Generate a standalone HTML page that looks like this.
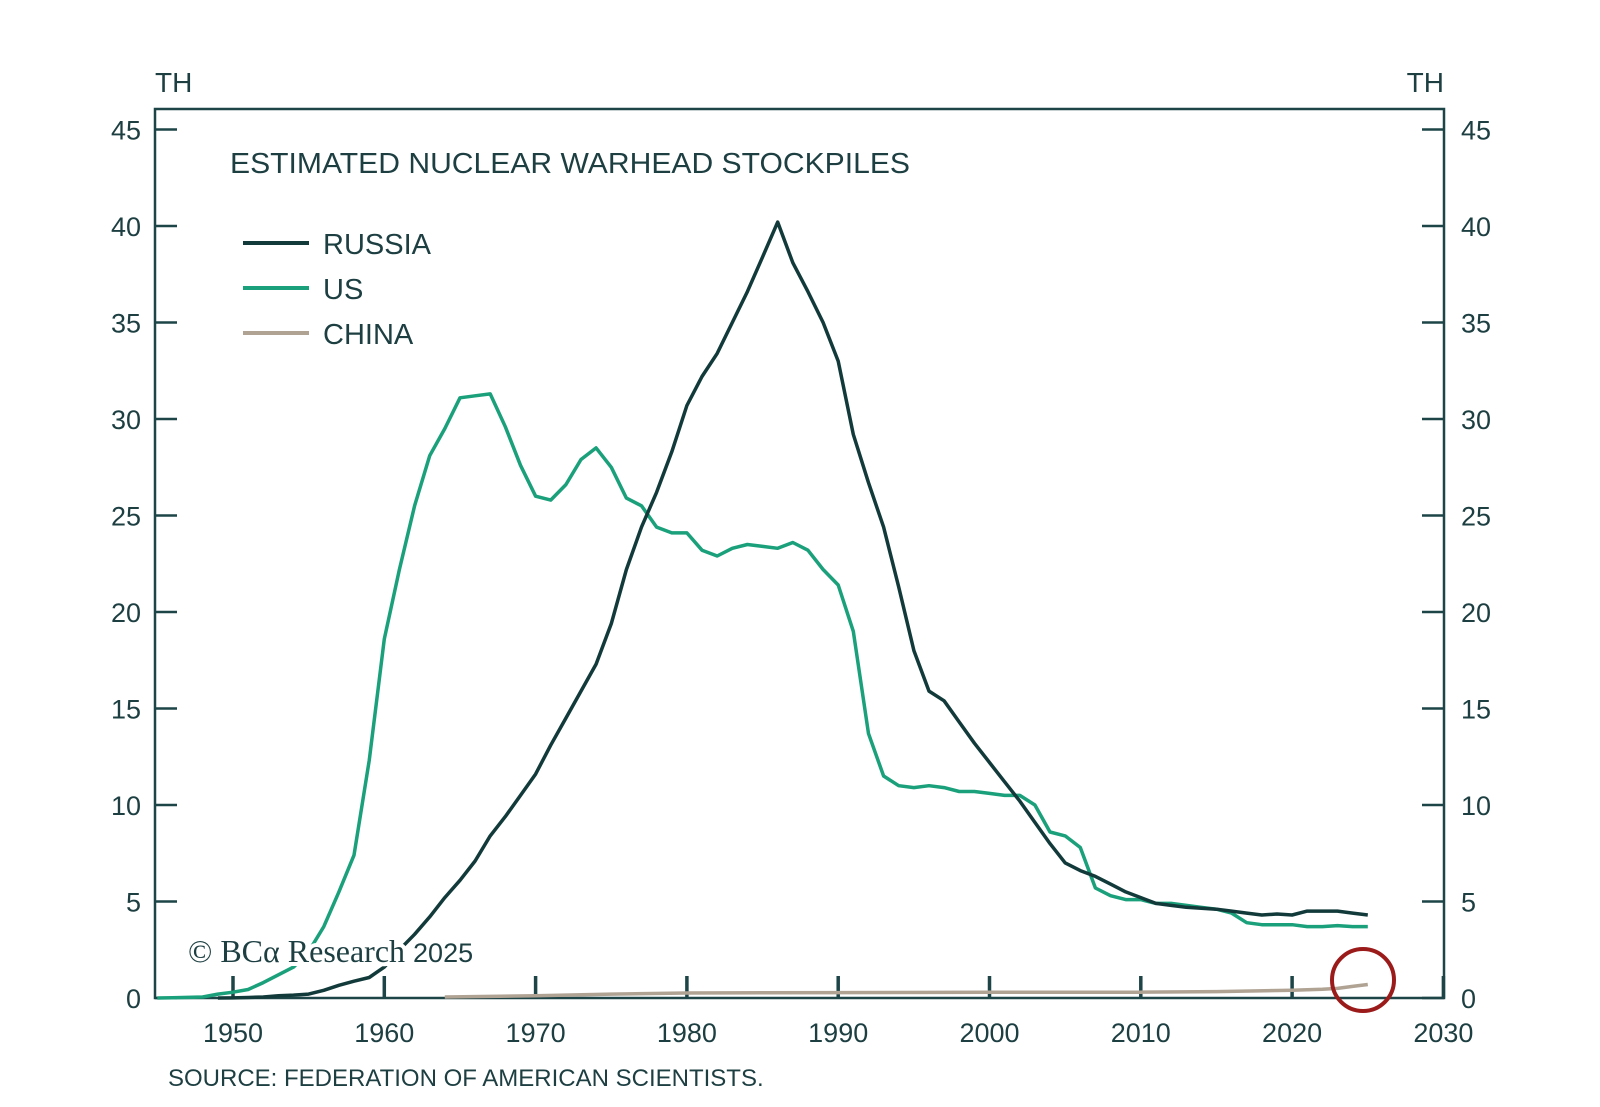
<!DOCTYPE html>
<html><head><meta charset="utf-8">
<style>
html,body{margin:0;padding:0;background:#fff;}
svg{display:block;}
text{font-family:"Liberation Sans",sans-serif;fill:#1d3f42;}
</style></head>
<body>
<svg id="chart" width="1600" height="1107" viewBox="0 0 1600 1107" xmlns="http://www.w3.org/2000/svg">
<rect width="1600" height="1107" fill="#fff"/>
<g id="axes"></g>
<g id="series"></g>
<text x="230" y="173" font-size="29" textLength="680" lengthAdjust="spacingAndGlyphs">ESTIMATED NUCLEAR WARHEAD STOCKPILES</text>
<g>
 <g><line x1="243" y1="243" x2="309" y2="243" stroke="#123a3a" stroke-width="4"/><text x="323" y="254" font-size="29">RUSSIA</text></g>
 <g><line x1="243" y1="288" x2="309" y2="288" stroke="#1aa07a" stroke-width="4"/><text x="323" y="299" font-size="29">US</text></g>
 <g><line x1="243" y1="333" x2="309" y2="333" stroke="#b0a394" stroke-width="4"/><text x="323" y="344" font-size="29">CHINA</text></g>
</g>
<text x="155" y="92" font-size="28">TH</text>
<text x="1444" y="92" font-size="28" text-anchor="end">TH</text>
<text x="168" y="1086" font-size="24">SOURCE: FEDERATION OF AMERICAN SCIENTISTS.</text>
<circle cx="1363" cy="980" r="31" fill="none" stroke="#9b1b1b" stroke-width="4"/>
</svg>
<script>
const yearsRussia=[1949,1950,1951,1952,1953,1954,1955,1956,1957,1958,1959,1960,1961,1962,1963,1964,1965,1966,1967,1968,1969,1970,1971,1972,1973,1974,1975,1976,1977,1978,1979,1980,1981,1982,1983,1984,1985,1986,1987,1988,1989,1990,1991,1992,1993,1994,1995,1996,1997,1998,1999,2000,2001,2002,2003,2004,2005,2006,2007,2008,2009,2010,2011,2012,2013,2014,2015,2016,2017,2018,2019,2020,2021,2022,2023,2024,2025];
const russia=[0.001,0.005,0.025,0.05,0.12,0.15,0.2,0.4,0.66,0.87,1.06,1.6,2.5,3.3,4.2,5.2,6.1,7.1,8.4,9.4,10.5,11.6,13.1,14.5,15.9,17.3,19.4,22.2,24.4,26.2,28.3,30.7,32.2,33.4,35.0,36.6,38.4,40.2,38.1,36.6,35.0,33.0,29.2,26.7,24.4,21.3,18.0,15.9,15.4,14.3,13.2,12.2,11.2,10.2,9.1,8.0,7.0,6.6,6.3,5.9,5.5,5.2,4.9,4.8,4.7,4.65,4.6,4.5,4.4,4.3,4.35,4.3,4.5,4.5,4.5,4.4,4.3];
const yearsUS=[1945,1946,1947,1948,1949,1950,1951,1952,1953,1954,1955,1956,1957,1958,1959,1960,1961,1962,1963,1964,1965,1966,1967,1968,1969,1970,1971,1972,1973,1974,1975,1976,1977,1978,1979,1980,1981,1982,1983,1984,1985,1986,1987,1988,1989,1990,1991,1992,1993,1994,1995,1996,1997,1998,1999,2000,2001,2002,2003,2004,2005,2006,2007,2008,2009,2010,2011,2012,2013,2014,2015,2016,2017,2018,2019,2020,2021,2022,2023,2024,2025];
const us=[0.002,0.01,0.03,0.05,0.2,0.3,0.44,0.8,1.2,1.6,2.4,3.7,5.5,7.4,12.3,18.6,22.2,25.5,28.1,29.5,31.1,31.2,31.3,29.6,27.6,26.0,25.8,26.6,27.9,28.5,27.5,25.9,25.5,24.4,24.1,24.1,23.2,22.9,23.3,23.5,23.4,23.3,23.6,23.2,22.2,21.4,19.0,13.7,11.5,11.0,10.9,11.0,10.9,10.7,10.7,10.6,10.5,10.5,10.0,8.6,8.4,7.8,5.7,5.3,5.1,5.1,4.9,4.9,4.8,4.7,4.6,4.4,3.9,3.8,3.8,3.8,3.7,3.7,3.75,3.7,3.7];
const yearsChina=[1964,1970,1975,1980,1990,2000,2010,2015,2020,2022,2023,2024,2025];
const china=[0.05,0.12,0.2,0.26,0.28,0.3,0.3,0.33,0.4,0.45,0.5,0.6,0.7];
const yTicks=[0,5,10,15,20,25,30,35,40,45];
const xTicks=[1950,1960,1970,1980,1990,2000,2010,2020,2030];

const NS='http://www.w3.org/2000/svg';
const L=155,R=1444,T=109,B=998;
const x=yr=>233+(yr-1950)*15.13;
const y=v=>B-v*19.3;
function mk(tag,attrs,parent){const e=document.createElementNS(NS,tag);for(const k in attrs)e.setAttribute(k,attrs[k]);parent.appendChild(e);return e;}
const axes=document.getElementById('axes'),series=document.getElementById('series');
const frame=mk('rect',{x:L,y:T,width:R-L,height:B-T,fill:'none',stroke:'#1d4447','stroke-width':2.5},axes);


yTicks.forEach(v=>{
 const l1=mk('line',{x1:L,x2:L+22,y1:y(v),y2:y(v),stroke:'#1d4447','stroke-width':2.5},axes);
 
 
 const l2=mk('line',{x1:R-22,x2:R,y1:y(v),y2:y(v),stroke:'#1d4447','stroke-width':2.5},axes);
 
 
 const t1=mk('text',{x:141,y:y(v)+10,'font-size':27,'text-anchor':'end'},axes);t1.textContent=v;
 
 
 const t2=mk('text',{x:1461,y:y(v)+10,'font-size':27},axes);t2.textContent=v;
 
 
});
xTicks.forEach(yr=>{
 const l=mk('line',{x1:x(yr),x2:x(yr),y1:B,y2:B-22,stroke:'#1d4447','stroke-width':3.5},axes);
 
 
 const t=mk('text',{x:x(yr),y:1042,'font-size':27,'text-anchor':'middle'},axes);t.textContent=yr;
 
 
});
function line(ys,vs,color,name){
 const d=ys.map((yr,i)=>(i?'L':'M')+x(yr).toFixed(1)+','+y(vs[i]).toFixed(1)).join('');
 const p=mk('path',{d:d,fill:'none',stroke:color,'stroke-width':3.5,'stroke-linejoin':'round'},series);
 
 
}
line(yearsChina,china,'#b0a394','china-line');
line(yearsUS,us,'#1aa07a','us-line');
line(yearsRussia,russia,'#123a3a','russia-line');
const wm=mk('text',{x:188,y:962,'font-size':32,style:'font-family:"Liberation Serif",serif',stroke:'#fff','stroke-width':8,'paint-order':'stroke'},series);


const s1=mk('tspan',{},wm);s1.textContent='© BCα Research ';
const s2=mk('tspan',{style:'font-family:"Liberation Sans",sans-serif','font-size':27},wm);s2.textContent='2025';
</script>
</body></html>
